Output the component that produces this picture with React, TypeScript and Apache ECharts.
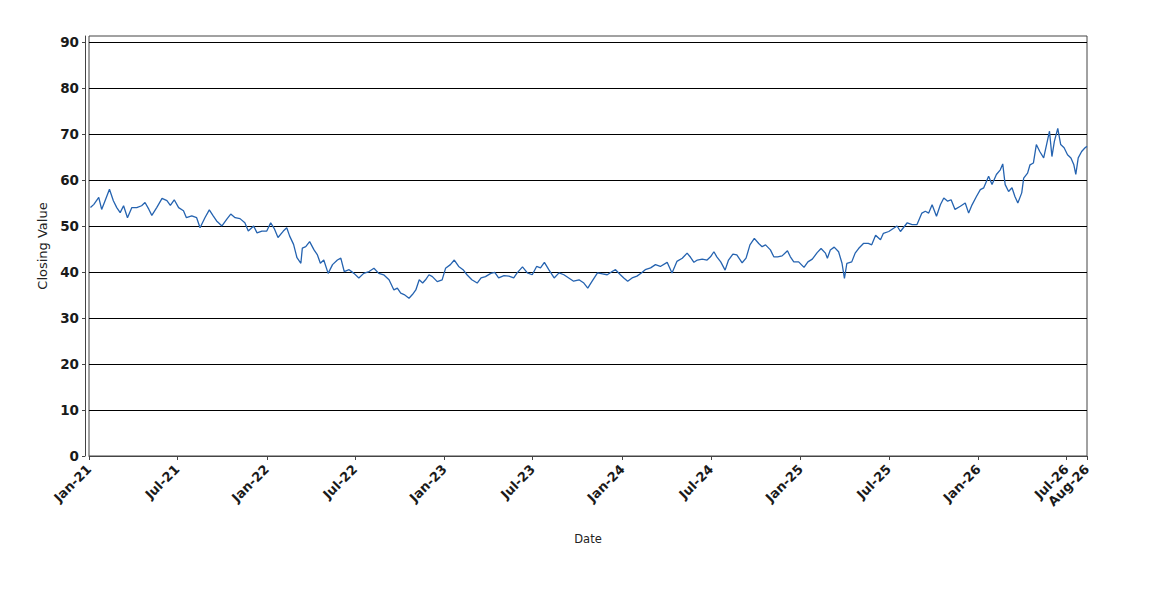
import React, { useEffect, useRef } from "react";
import * as echarts from "echarts";

const dates: string[] = [
  "2021-01-04","2021-01-11","2021-01-21","2021-01-27","2021-02-03","2021-02-12","2021-02-20","2021-02-27",
  "2021-03-06","2021-03-13","2021-03-21","2021-03-30","2021-04-09","2021-04-19","2021-04-26","2021-05-04",
  "2021-05-10","2021-05-20","2021-05-31","2021-06-10","2021-06-17","2021-06-25","2021-07-04","2021-07-14",
  "2021-07-20","2021-07-31","2021-08-10","2021-08-17","2021-08-27","2021-09-05","2021-09-13","2021-09-20",
  "2021-10-01","2021-10-11","2021-10-19","2021-10-28","2021-11-07","2021-11-17","2021-11-24","2021-12-05",
  "2021-12-12","2021-12-22","2022-01-01","2022-01-09","2022-01-17","2022-01-24","2022-02-04","2022-02-11",
  "2022-02-17","2022-02-25","2022-03-04","2022-03-12","2022-03-15","2022-03-22","2022-03-30","2022-04-08",
  "2022-04-15","2022-04-21","2022-04-28","2022-05-07","2022-05-16","2022-05-26","2022-06-02","2022-06-09",
  "2022-06-19","2022-06-29","2022-07-09","2022-07-19","2022-07-30","2022-08-09","2022-08-19","2022-08-29",
  "2022-09-09","2022-09-19","2022-09-26","2022-10-03","2022-10-10","2022-10-20","2022-10-27","2022-11-03",
  "2022-11-10","2022-11-17","2022-11-23","2022-11-30","2022-12-07","2022-12-17","2022-12-27","2023-01-03",
  "2023-01-13","2023-01-21","2023-01-30","2023-02-08","2023-02-16","2023-02-26","2023-03-09","2023-03-17",
  "2023-03-26","2023-04-06","2023-04-14","2023-04-22","2023-05-03","2023-05-13","2023-05-23","2023-05-30",
  "2023-06-10","2023-06-20","2023-06-30","2023-07-09","2023-07-17","2023-07-25","2023-08-03","2023-08-14",
  "2023-08-24","2023-09-03","2023-09-13","2023-09-23","2023-10-04","2023-10-14","2023-10-22","2023-10-31",
  "2023-11-11","2023-11-21","2023-12-01","2023-12-11","2023-12-18","2023-12-28","2024-01-04","2024-01-12",
  "2024-01-21","2024-01-31","2024-02-09","2024-02-17","2024-02-28","2024-03-09","2024-03-19","2024-04-02",
  "2024-04-12","2024-04-22","2024-05-03","2024-05-13","2024-05-20","2024-05-27","2024-06-03","2024-06-13",
  "2024-06-23","2024-06-30","2024-07-07","2024-07-13","2024-07-21","2024-07-30","2024-08-06","2024-08-15",
  "2024-08-23","2024-09-03","2024-09-11","2024-09-19","2024-09-28","2024-10-07","2024-10-14","2024-10-21",
  "2024-10-31","2024-11-07","2024-11-15","2024-11-24","2024-12-05","2024-12-11","2024-12-18","2024-12-28",
  "2025-01-08","2025-01-16","2025-01-25","2025-02-04","2025-02-12","2025-02-21","2025-02-25","2025-03-03",
  "2025-03-11","2025-03-20","2025-03-27","2025-04-01","2025-04-06","2025-04-16","2025-04-23","2025-04-30",
  "2025-05-10","2025-05-20","2025-05-27","2025-06-04","2025-06-14","2025-06-20","2025-07-01","2025-07-11",
  "2025-07-18","2025-07-25","2025-08-08","2025-08-18","2025-08-28","2025-09-07","2025-09-14","2025-09-21",
  "2025-09-28","2025-10-07","2025-10-15","2025-10-22","2025-10-30","2025-11-06","2025-11-14","2025-11-25",
  "2025-12-05","2025-12-12","2025-12-19","2025-12-28","2026-01-05","2026-01-12","2026-01-22","2026-01-29",
  "2026-02-07","2026-02-15","2026-02-20","2026-02-25","2026-03-04","2026-03-11","2026-03-17","2026-03-23",
  "2026-03-31","2026-04-04","2026-04-12","2026-04-17","2026-04-24","2026-04-30","2026-05-07","2026-05-15",
  "2026-05-21","2026-05-27","2026-06-01","2026-06-06","2026-06-13","2026-06-19","2026-06-26","2026-07-03",
  "2026-07-10","2026-07-16","2026-07-20","2026-07-25","2026-08-01","2026-08-08","2026-08-12"
];

const closes: number[] = [
  54.0,54.7,56.2,53.6,55.5,58.0,55.5,54.0,
  52.9,54.4,51.8,54.0,54.0,54.4,55.1,53.6,
  52.3,54.0,56.0,55.5,54.5,55.7,54.0,53.3,
  51.8,52.2,51.8,49.6,51.8,53.5,52.2,51.1,
  50.0,51.5,52.6,51.8,51.6,50.7,48.9,50.0,
  48.5,48.9,48.9,50.7,49.3,47.5,48.9,49.6,
  47.8,46.0,43.1,41.9,45.2,45.5,46.6,44.8,
  43.7,41.9,42.6,39.7,41.6,42.6,43.0,40.1,
  40.5,39.7,38.7,39.7,40.1,40.8,39.7,39.4,
  38.3,36.1,36.5,35.4,35.1,34.3,35.1,36.1,
  38.3,37.6,38.3,39.4,39.0,37.9,38.3,40.8,
  41.6,42.6,41.2,40.5,39.4,38.3,37.6,38.7,
  39.0,39.7,39.9,38.7,39.2,39.1,38.7,39.8,
  41.1,39.8,39.4,41.2,40.9,42.1,40.5,38.7,
  39.8,39.4,38.7,38.0,38.3,37.6,36.5,38.0,
  39.8,39.6,39.4,40.1,40.5,39.4,38.7,38.0,
  38.7,39.1,39.8,40.5,40.9,41.6,41.2,42.1,
  39.8,42.3,43.0,44.1,43.2,42.1,42.6,42.8,
  42.6,43.3,44.4,43.3,42.2,40.4,42.6,43.9,
  43.7,42.0,43.0,45.9,47.3,46.2,45.5,45.9,
  44.8,43.3,43.3,43.5,44.6,43.3,42.2,42.2,
  41.0,42.2,42.8,44.2,45.1,44.1,43.0,44.8,
  45.4,44.4,41.9,38.6,41.9,42.2,44.1,45.1,
  46.2,46.2,45.9,48.0,47.0,48.4,48.8,49.5,
  50.0,48.8,50.7,50.3,50.3,52.8,53.2,52.8,
  54.6,52.1,54.6,56.1,55.4,55.7,53.6,54.3,
  55.0,52.8,54.6,56.4,57.9,58.3,60.8,59.0,
  61.2,62.2,63.5,59.0,57.5,58.3,56.4,55.0,
  57.2,60.4,61.5,63.3,63.7,67.7,66.2,64.8,
  67.7,70.6,65.1,68.4,71.2,67.7,67.0,65.5,
  64.8,63.3,61.2,64.8,66.2,67.0,67.3
];

const xStart = "2021-01-01";
const xEnd = "2026-08-12";
const xTickDates: string[] = [
  "2021-01-01","2021-07-01","2022-01-01","2022-07-01","2023-01-01","2023-07-01",
  "2024-01-01","2024-07-01","2025-01-01","2025-07-01","2026-01-01","2026-07-01","2026-08-12"
];
const monthNames: string[] = ["Jan","Feb","Mar","Apr","May","Jun","Jul","Aug","Sep","Oct","Nov","Dec"];
const yTicks: number[] = [0, 10, 20, 30, 40, 50, 60, 70, 80, 90];

const ts = (s: string) => {
  const [y, m, d] = s.split("-").map(Number);
  return Date.UTC(y, m - 1, d);
};

export default function App() {
  const ref = useRef<HTMLDivElement>(null);
  useEffect(() => {
    if (!ref.current) return;
    const chart = echarts.init(ref.current, undefined, { renderer: "svg" });
    const font = "DejaVu Sans";
    chart.setOption({
      animation: false,
      backgroundColor: "#ffffff",
      grid: {
        left: 89,
        right: 63,
        top: 36,
        bottom: 144,
        show: true,
        borderColor: "#444444",
        borderWidth: 1,
        backgroundColor: "transparent",
      },
      xAxis: {
        type: "value",
        min: ts(xStart),
        max: ts(xEnd),
        offset: 5,
        name: "Date",
        nameLocation: "middle",
        nameGap: 72,
        nameTextStyle: { fontFamily: font, fontSize: 11.5, color: "#222" },
        axisLine: { show: true, lineStyle: { color: "#444444", width: 1 } },
        axisTick: {
          show: true,
          length: 4,
          lineStyle: { color: "#444444" },
          customValues: xTickDates.map(ts),
        },
        axisLabel: {
          rotate: 45,
          margin: 6,
          fontFamily: font,
          fontSize: 13,
          fontWeight: "bold",
          color: "#1a1a1a",
          customValues: xTickDates.map(ts),
          formatter: (v: number) => {
            const d = new Date(v);
            const yy = String(d.getUTCFullYear() % 100).padStart(2, "0");
            return monthNames[d.getUTCMonth()] + "-" + yy;
          },
        },
        splitLine: { show: false },
      },
      yAxis: {
        type: "value",
        min: 0,
        max: 91.3,
        interval: 10,
        offset: 4,
        name: "Closing Value",
        nameLocation: "middle",
        nameGap: 34,
        nameTextStyle: { fontFamily: font, fontSize: 13, color: "#222" },
        axisLine: { show: true, lineStyle: { color: "#444444", width: 1 } },
        axisTick: { show: true, length: 3, lineStyle: { color: "#444444" }, customValues: yTicks },
        axisLabel: {
          margin: 6,
          fontFamily: font,
          fontSize: 13.5,
          fontWeight: "bold",
          color: "#1a1a1a",
          customValues: yTicks,
        },
        splitLine: { show: true, lineStyle: { color: "#000000", width: 1 } },
      },
      series: [
        {
          type: "line",
          data: dates.map((d, i) => [ts(d), closes[i]]),
          showSymbol: false,
          lineStyle: { color: "#2563b0", width: 1.3 },
          itemStyle: { color: "#2563b0" },
        },
      ],
    });
    return () => chart.dispose();
  }, []);
  return (
    <div
      ref={ref}
      style={{ position: "absolute", left: 0, top: 0, width: 1150, height: 600, background: "#fff" }}
    />
  );
}
